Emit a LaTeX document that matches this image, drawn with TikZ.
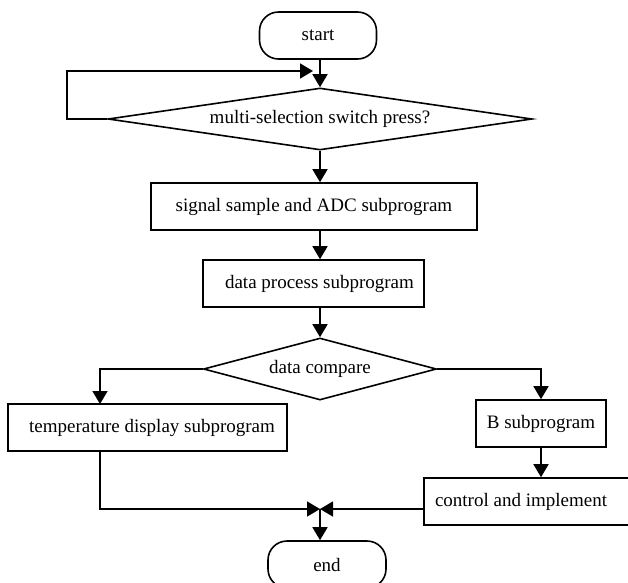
\documentclass[tikz,border=0pt]{standalone}
\usepackage{fontspec}
\setmainfont{Liberation Serif}
\usetikzlibrary{shapes.geometric,arrows.meta}
\begin{document}
\begin{tikzpicture}[x=1pt,y=-1pt,
  every node/.style={font=\fontsize{19}{22}\selectfont},
  box/.style={draw,line width=1.6pt,minimum height=47pt,inner sep=0pt},
  term/.style={draw,line width=1.6pt,rounded corners=19pt,minimum height=47pt,inner sep=0pt},
  dec/.style={draw,line width=1.6pt,diamond,inner sep=0pt},
  arr/.style={line width=1.6pt,-{Triangle[length=13pt,width=15pt]}}]
\useasboundingbox (0,0) rectangle (628,582);
\node[term,minimum width=117pt] (start) at (318,35.5) {\raisebox{-2pt}{start}};
\node[dec,minimum width=424pt,minimum height=62pt,aspect=6.8] (d1) at (320,119) {multi-selection switch press?};
\node[box,minimum width=326pt] (sig) at (314,206.5) {signal sample and ADC subprogram};
\node[box,minimum width=221pt,label={[xshift=6pt]center:data process subprogram}] (dp) at (313.5,283.5) {};
\node[dec,minimum width=233pt,minimum height=62pt,aspect=3.75] (d2) at (320,369) {data compare};
\node[box,minimum width=279pt,label={[xshift=4.5pt]center:temperature display subprogram}] (temp) at (147.5,427.5) {};
\node[box,minimum width=130pt] (B) at (541,423.5) {B subprogram};
\node[box,minimum width=206pt,label={[xshift=-6pt]center:control and implement}] (ctrl) at (527,501.5) {};
\node[term,minimum width=118pt] (end) at (327,564.5) {\raisebox{-2pt}{end}};
\coordinate (fbl) at (67,71);
\coordinate (fb) at (313,71);
\coordinate (tl) at (100,404);
\coordinate (m) at (320,509);
% connectors
\draw[arr] (start.south -| d1.north) -- (d1.north);
\draw[arr] (d1.west) -| (fbl) -- (fb);
\draw[arr] (d1.south) -- (d1.south |- sig.north);
\draw[arr] (sig.south -| d1.south) -- (d1.south |- dp.north);
\draw[arr] (dp.south -| d2.north) -- (d2.north);
\draw[arr] (d2.west) -| (tl);
\draw[arr] (d2.east) -| (B.north);
\draw[arr] (B.south) -- (B.south |- ctrl.north);
\draw[arr] (tl |- temp.south) |- (m);
\draw[arr] (ctrl.west |- m) -- (m);
\draw[arr] (m) -- (m |- end.north);
\end{tikzpicture}
\end{document}
